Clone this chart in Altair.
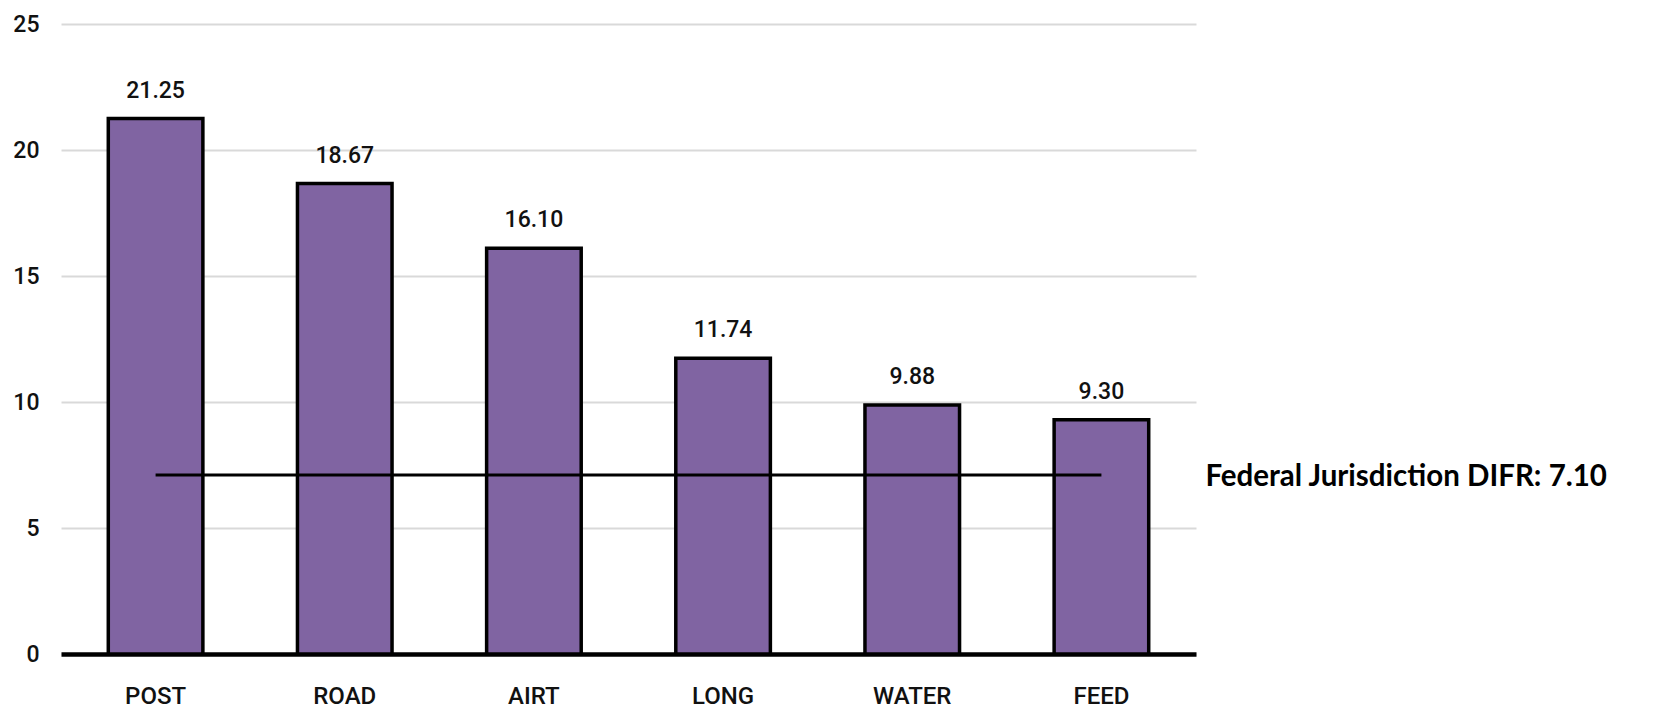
import altair as alt
import pandas as pd

categories = ["POST", "ROAD", "AIRT", "LONG", "WATER", "FEED"]
values = [21.25, 18.67, 16.10, 11.74, 9.88, 9.30]
labels = ["21.25", "18.67", "16.10", "11.74", "9.88", "9.30"]
federal_value = 7.10
federal_label = "Federal Jurisdiction DIFR: 7.10"

df = pd.DataFrame({"cat": categories, "val": values, "lab": labels})
ref_df = pd.DataFrame({"start": [categories[0]], "end": [categories[-1]],
                       "y": [federal_value], "txt": [federal_label]})

FONT = "Roboto"
xscale = alt.Scale(domain=categories, paddingInner=0.5, paddingOuter=0.25)
yscale = alt.Scale(domain=[0, 25], nice=False)

x = alt.X("cat:N", title=None, scale=xscale,
          axis=alt.Axis(labelAngle=0, labelFont=FONT, labelFontSize=24,
                        labelFontWeight=500,
                        labelColor="#111111", labelPadding=30, ticks=False,
                        domainColor="#000000", domainWidth=4.5, grid=False))
y = alt.Y("val:Q", title=None, scale=yscale,
          axis=alt.Axis(values=[0, 5, 10, 15, 20, 25], labelFont=FONT,
                        labelFontSize=23, labelFontWeight=500,
                        labelColor="#111111", labelPadding=22,
                        ticks=False, domain=False, grid=True,
                        gridColor="#d9d9d9", gridWidth=2))

bars = alt.Chart(df).mark_bar(color="#8064A2", stroke="#000000",
                              strokeWidth=3.5).encode(x=x, y=y)

texts = alt.Chart(df).mark_text(font=FONT, fontSize=23, fontWeight=500,
                                color="#111111",
                                baseline="alphabetic", dy=-21).encode(
    x=alt.X("cat:N", scale=xscale), y=alt.Y("val:Q", scale=yscale),
    text="lab:N")

rule = alt.Chart(ref_df).mark_rule(color="#000000", strokeWidth=3).encode(
    x=alt.X("start:N", scale=xscale), x2="end:N",
    y=alt.Y("y:Q", scale=yscale))

note = alt.Chart(ref_df).mark_text(font="Lato", fontWeight="bold", fontSize=29.5,
                                   color="#000000", align="left",
                                   baseline="middle", dx=104, dy=2).encode(
    x=alt.X("end:N", scale=xscale), y=alt.Y("y:Q", scale=yscale),
    text="txt:N")

chart = alt.layer(bars, rule, texts, note).properties(
    width=1135, height=630,
    autosize=alt.AutoSizeParams(type="none"),
    padding={"left": 53, "top": 16, "right": 440, "bottom": 62},
).configure(background="#ffffff").configure_view(stroke=None)

chart.save("out.html", embed_options={"renderer": "svg", "actions": False})
